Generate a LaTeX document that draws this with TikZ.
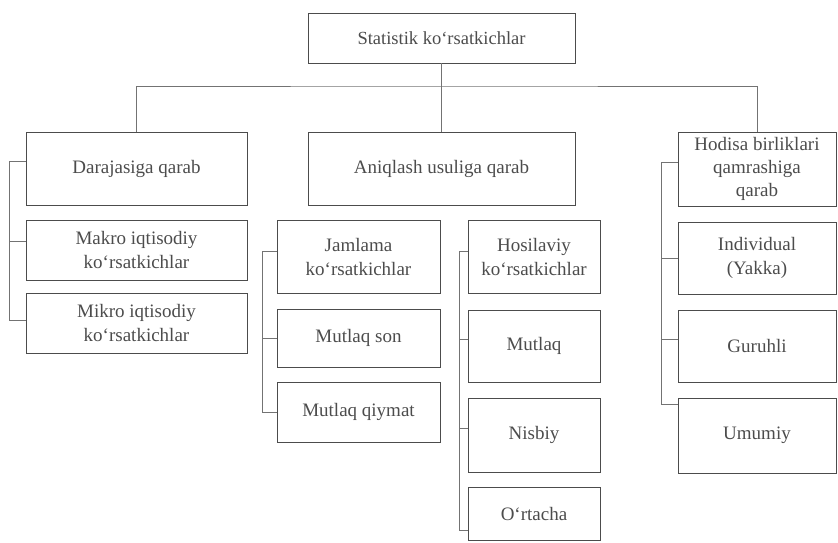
\documentclass[tikz,border=0pt]{standalone}
\usepackage{fontspec}
\setmainfont{Liberation Serif}
\usepackage{xcolor}
\usepackage{tikz}
\usetikzlibrary{positioning}

\begin{document}
\begin{tikzpicture}[x=1pt, y=-1pt,
        box/.style = {draw = black!70, line width = 0.8pt, rectangle, align = center,
            text = black!70, font = \fontsize{19}{24}\selectfont, inner sep = 1pt},
        link/.style = {draw = black!55, line width = 0.6pt}]
            \useasboundingbox (0, 0) rectangle (838, 542);

            \node[box, minimum width = 267, minimum height = 50, font = \fontsize{18.5}{22}\selectfont]
                (top) at (441.5, 38) {Statistik ko‘rsatkichlar};

            % uchta guruh
            \node[box, minimum width = 221, minimum height = 73] (daraja) at (136.5, 168.5) {Darajasiga qarab};
            \node[box, minimum width = 267, minimum height = 73] (aniq) at (441.5, 168.5) {Aniqlash usuliga qarab};
            \node[box, minimum width = 158, minimum height = 74, font = \fontsize{19}{23}\selectfont]
                (hodisa) at (757, 169) {Hodisa birliklari\\ qamrashiga\\ qarab};

            % darajasiga qarab
            \node[box, minimum width = 221, minimum height = 60] (makro) at (136.5, 250) {Makro iqtisodiy\\ ko‘rsatkichlar};
            \node[box, minimum width = 221, minimum height = 60] (mikro) at (136.5, 323) {Mikro iqtisodiy\\ ko‘rsatkichlar};

            % aniqlash usuliga qarab
            \node[box, minimum width = 163, minimum height = 73] (jamlama) at (358.5, 256.5) {Jamlama\\ ko‘rsatkichlar};
            \node[box, minimum width = 163, minimum height = 58] (mutson) at (358.5, 338) {Mutlaq son};
            \node[box, minimum width = 163, minimum height = 60] (mutqiy) at (358.5, 412) {Mutlaq qiymat};
            \node[box, minimum width = 132, minimum height = 73] (hosil) at (534, 256.5) {Hosilaviy\\ ko‘rsatkichlar};
            \node[box, minimum width = 132, minimum height = 72] (mutlaq) at (534, 346) {Mutlaq};
            \node[box, minimum width = 132, minimum height = 74] (nisbiy) at (534, 435) {Nisbiy};
            \node[box, minimum width = 132, minimum height = 53] (ortacha) at (534, 513.5) {O‘rtacha};

            % hodisa birliklari qamrashiga qarab
            \node[box, minimum width = 158, minimum height = 72] (individual) at (757, 258) {Individual\\ (Yakka)};
            \node[box, minimum width = 158, minimum height = 72] (guruhli) at (757, 346) {Guruhli};
            \node[box, minimum width = 158, minimum height = 75] (umumiy) at (757, 435.5) {Umumiy};

            % yuqori shina
            \coordinate (bus) at (441.5, 86);
            \draw[link] (top.south) -- (aniq.north);
            \draw[link] (daraja.north) |- (bus) -| (hodisa.north);

            % chap qavslar
            \draw[link] ([yshift = 7]daraja.west) -- ++(-16, 0) |- ([yshift = 3]mikro.west);
            \draw[link] ([yshift = 9]makro.west) -- ++(-16, 0);

            \draw[link] ([yshift = 5]jamlama.west) -- ++(-14, 0) |- (mutqiy.west);
            \draw[link] (mutson.west) -- ++(-14, 0);

            \draw[link] ([yshift = 5]hosil.west) -- ++(-8, 0) |- ([yshift = -17]ortacha.west);
            \draw[link] ([yshift = 7]mutlaq.west) -- ++(-8, 0);
            \draw[link] ([yshift = 7]nisbiy.west) -- ++(-8, 0);

            \draw[link] ([yshift = 7]hodisa.west) -- ++(-16, 0) |- ([yshift = 31]umumiy.west);
            \draw[link] (individual.west) -- ++(-16, 0);
            \draw[link] ([yshift = 7]guruhli.west) -- ++(-16, 0);
        \end{tikzpicture}
\end{document}
